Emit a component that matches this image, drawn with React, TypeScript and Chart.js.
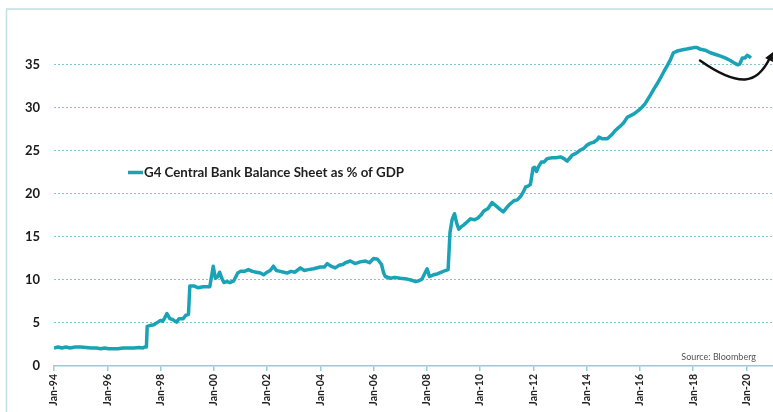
import React, { useEffect, useRef } from "react";
import { Chart, registerables } from "chart.js";

Chart.register(...registerables);

// Dates as fractional years, values as % of GDP
const years: number[] = [
  1994.0, 1994.15, 1994.3, 1994.45, 1994.6, 1994.8, 1995.0, 1995.2, 1995.4, 1995.6,
  1995.75, 1995.9, 1996.05, 1996.2, 1996.4, 1996.6, 1996.8, 1997.0, 1997.2, 1997.35,
  1997.42, 1997.47, 1997.5, 1997.6, 1997.75, 1997.9, 1998.0, 1998.08, 1998.16, 1998.24,
  1998.35, 1998.45, 1998.6, 1998.7, 1998.85, 1998.95, 1999.05, 1999.1, 1999.25, 1999.4,
  1999.6, 1999.85, 1999.98, 2000.06, 2000.15, 2000.22, 2000.3, 2000.38, 2000.5, 2000.6,
  2000.75, 2000.9, 2001.0, 2001.15, 2001.3, 2001.45, 2001.6, 2001.75, 2001.87, 2002.0,
  2002.12, 2002.24, 2002.35, 2002.5, 2002.75, 2002.9, 2003.05, 2003.25, 2003.4, 2003.55,
  2003.75, 2004.0, 2004.15, 2004.26, 2004.4, 2004.56, 2004.7, 2004.85, 2004.94, 2005.13,
  2005.3, 2005.5, 2005.7, 2005.85, 2006.0, 2006.15, 2006.3, 2006.38, 2006.44, 2006.63,
  2006.8, 2007.0, 2007.26, 2007.4, 2007.57, 2007.7, 2007.82, 2008.01, 2008.1, 2008.25,
  2008.39, 2008.55, 2008.7, 2008.8, 2008.87, 2008.95, 2009.04, 2009.12, 2009.2, 2009.3,
  2009.39, 2009.5, 2009.64, 2009.8, 2009.92, 2010.05, 2010.14, 2010.3, 2010.45, 2010.6,
  2010.75, 2010.87, 2011.0, 2011.08, 2011.27, 2011.4, 2011.52, 2011.62, 2011.71, 2011.8,
  2011.89, 2011.99, 2012.05, 2012.12, 2012.2, 2012.3, 2012.4, 2012.52, 2012.7, 2012.85,
  2013.02, 2013.15, 2013.27, 2013.38, 2013.46, 2013.6, 2013.77, 2013.9, 2014.03, 2014.15,
  2014.27, 2014.4, 2014.46, 2014.6, 2014.78, 2014.95, 2015.09, 2015.2, 2015.28, 2015.4,
  2015.53, 2015.65, 2015.78, 2015.95, 2016.09, 2016.2, 2016.28, 2016.4, 2016.53, 2016.65,
  2016.78, 2016.9, 2017.03, 2017.15, 2017.26, 2017.4, 2017.53, 2017.7, 2017.85, 2018.03,
  2018.15, 2018.28, 2018.45, 2018.65, 2018.85, 2019.03, 2019.2, 2019.4, 2019.55, 2019.68,
  2019.75, 2019.85, 2019.95, 2020.03, 2020.1, 2020.17,
];

const balanceSheetPctGdp: number[] = [
  2.1, 2.2, 2.1, 2.2, 2.1, 2.2, 2.2, 2.15, 2.1, 2.1,
  2.0, 2.1, 2.0, 2.0, 2.0, 2.1, 2.1, 2.1, 2.15, 2.1,
  2.25, 2.2, 4.6, 4.7, 4.8, 5.1, 5.3, 5.2, 5.6, 6.1,
  5.5, 5.4, 5.1, 5.5, 5.5, 5.9, 6.0, 9.3, 9.3, 9.1,
  9.2, 9.2, 11.6, 10.2, 10.4, 10.9, 10.2, 9.7, 9.8, 9.7,
  9.9, 10.8, 11.0, 11.0, 11.2, 11.0, 10.9, 10.8, 10.6, 10.9,
  11.1, 11.6, 11.1, 11.0, 10.8, 11.0, 10.9, 11.4, 11.1, 11.2,
  11.3, 11.5, 11.5, 11.9, 11.6, 11.4, 11.7, 11.8, 12.0, 12.2,
  11.9, 12.1, 12.2, 12.0, 12.5, 12.4, 11.8, 10.8, 10.4, 10.2,
  10.3, 10.2, 10.1, 10.0, 9.8, 9.9, 10.1, 11.3, 10.4, 10.6,
  10.7, 10.9, 11.1, 11.2, 15.5, 17.0, 17.7, 16.6, 15.9, 16.2,
  16.4, 16.7, 17.1, 17.0, 17.2, 17.6, 18.0, 18.3, 19.0, 18.6,
  18.2, 17.9, 18.4, 18.7, 19.2, 19.3, 19.7, 20.2, 20.8, 20.9,
  21.1, 23.0, 23.1, 22.6, 23.2, 23.7, 23.7, 24.1, 24.2, 24.2,
  24.3, 24.1, 23.8, 24.2, 24.5, 24.7, 25.1, 25.3, 25.7, 25.9,
  26.0, 26.3, 26.6, 26.4, 26.4, 26.9, 27.4, 27.7, 27.9, 28.3,
  28.9, 29.1, 29.3, 29.7, 30.1, 30.5, 30.9, 31.5, 32.2, 32.8,
  33.5, 34.2, 34.9, 35.6, 36.4, 36.6, 36.7, 36.8, 36.9, 37.0,
  37.0, 36.8, 36.7, 36.4, 36.2, 36.0, 35.8, 35.5, 35.2, 35.0,
  35.1, 35.8, 35.8, 36.1, 36.0, 35.8,
];

const seriesLabel = "G4 Central Bank Balance Sheet as % of GDP";
const sourceLabel = "Source: Bloomberg";
const yTickValues: number[] = [0, 5, 10, 15, 20, 25, 30, 35];

// Hand-drawn arrow annotation, in data units [year, value]
const arrowPath: number[][] = [
  [2018.26, 35.5],
  [2019.31, 33.2],
  [2019.95, 33.3],
  [2020.51, 33.4],
  [2020.89, 35.85],
  [2021.0, 36.5],
];

const TEAL = "#1aa3b6";
const GRID = "#7fc7d2";

export default function App() {
  const ref = useRef<HTMLCanvasElement | null>(null);

  useEffect(() => {
    if (!ref.current) return;
    const overlay = {
      id: "overlay",
      afterDraw(chart: any) {
        const ctx = chart.ctx;
        const xs = chart.scales.x;
        const ys = chart.scales.y;
        ctx.save();
        // frame
        ctx.strokeStyle = "#c3dde4";
        ctx.lineWidth = 1.5;
        ctx.strokeRect(6.5, 9, 900, 900);
        // legend
        ctx.strokeStyle = TEAL;
        ctx.lineWidth = 3.5;
        ctx.beginPath();
        ctx.moveTo(128, 172.5);
        ctx.lineTo(143, 172.5);
        ctx.stroke();
        ctx.fillStyle = "#1e1e1e";
        ctx.font = "bold 13.3px Lato";
        ctx.textBaseline = "middle";
        ctx.textAlign = "left";
        ctx.fillText(seriesLabel, 144, 173);
        // source
        ctx.fillStyle = "#555";
        ctx.font = "9px Lato";
        ctx.textAlign = "right";
        ctx.fillText(sourceLabel, 756, 357);
        // arrow
        const p = arrowPath.map(([a, b]) => [xs.getPixelForValue(a), ys.getPixelForValue(b)]);
        ctx.strokeStyle = "#111";
        ctx.fillStyle = "#111";
        ctx.lineWidth = 2.5;
        ctx.lineCap = "round";
        ctx.beginPath();
        ctx.moveTo(p[0][0], p[0][1]);
        ctx.quadraticCurveTo(p[1][0], p[1][1], p[2][0], p[2][1]);
        ctx.quadraticCurveTo(p[3][0], p[3][1], p[4][0], p[4][1]);
        ctx.stroke();
        const tip = p[5];
        const ang = Math.atan2(tip[1] - p[3][1], tip[0] - p[3][0]);
        const L = 10;
        ctx.beginPath();
        ctx.moveTo(tip[0], tip[1]);
        ctx.lineTo(tip[0] - L * Math.cos(ang - 0.45), tip[1] - L * Math.sin(ang - 0.45));
        ctx.lineTo(tip[0] - L * Math.cos(ang + 0.45), tip[1] - L * Math.sin(ang + 0.45));
        ctx.closePath();
        ctx.fill();
        ctx.restore();
      },
    };

    const chart = new Chart(ref.current, {
      type: "line",
      data: {
        datasets: [
          {
            label: seriesLabel,
            data: years.map((x, i) => ({ x, y: balanceSheetPctGdp[i] })),
            borderColor: TEAL,
            borderWidth: 3.5,
            pointRadius: 0,
            tension: 0,
            fill: false,
            borderJoinStyle: "round",
          },
        ],
      },
      options: {
        responsive: false,
        animation: false,
        layout: { padding: { top: 19, right: 0, left: 0, bottom: 0 } },
        plugins: { legend: { display: false }, tooltip: { enabled: false } },
        scales: {
          x: {
            type: "linear",
            min: 1994,
            max: 2021,
            afterFit: (s: any) => {
              s.height = 46;
            },
            border: { display: true, color: "#8fcfd8", width: 1.5 },
            grid: {
              display: true,
              drawOnChartArea: false,
              drawTicks: true,
              tickLength: 5,
              color: "#8fcfd8",
              lineWidth: 1.5,
            },
            ticks: {
              stepSize: 2,
              includeBounds: false,
              autoSkip: false,
              minRotation: 90,
              maxRotation: 90,
              padding: 3,
              color: "#222",
              font: { family: "Lato", weight: "bold", size: 10.5 },
              callback: (v: any) => "Jan-" + String(Number(v) % 100).padStart(2, "0"),
            },
          },
          y: {
            min: 0,
            max: 40,
            afterFit: (s: any) => {
              s.width = 54;
            },
            afterBuildTicks: (s: any) => {
              s.ticks = yTickValues.map((v) => ({ value: v }));
            },
            border: { display: false, dash: [2, 2] },
            grid: {
              drawTicks: false,
              lineWidth: 1,
              color: (c: any) => (c.tick && c.tick.value === 0 ? "rgba(0,0,0,0)" : GRID),
            },
            ticks: {
              padding: 14,
              color: "#1a1a1a",
              font: { family: "Lato", weight: "bold", size: 13 },
            },
          },
        },
      },
      plugins: [overlay],
    } as any);
    return () => chart.destroy();
  }, []);

  return (
    <div style={{ position: "absolute", left: 0, top: 0, width: 773, height: 412, background: "#fff" }}>
      <canvas ref={ref} width={773} height={412} style={{ display: "block" }} />
    </div>
  );
}
